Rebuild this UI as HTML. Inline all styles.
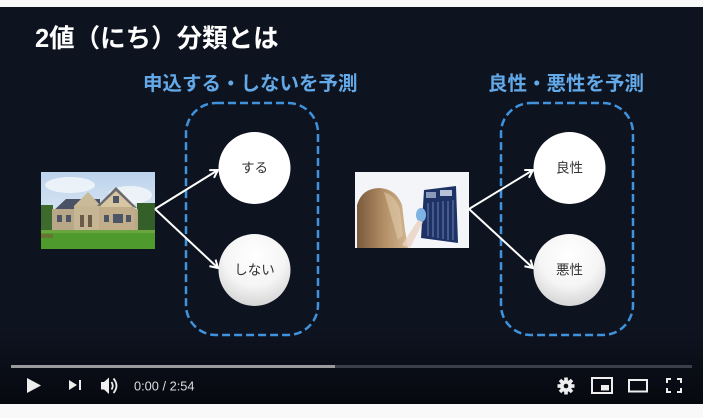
<!DOCTYPE html>
<html><head><meta charset="utf-8"><style>
html,body{margin:0;padding:0;background:#f9f9f9;}
body{width:703px;height:418px;overflow:hidden;}
svg{display:block;}
text{font-family:"Liberation Sans","Noto Sans CJK JP",sans-serif;}
</style></head><body>
<svg width="703" height="418" viewBox="0 0 703 418" xmlns="http://www.w3.org/2000/svg">
<defs>
<marker id="ah" markerWidth="12" markerHeight="12" refX="9" refY="6" orient="auto" markerUnits="userSpaceOnUse">
<path d="M1.5,1.5 L9,6 L1.5,10.5" fill="none" stroke="#fff" stroke-width="2" stroke-linejoin="miter"/>
</marker>
<radialGradient id="cg" cx="50%" cy="30%" r="70%">
<stop offset="0" stop-color="#ffffff"/><stop offset="0.6" stop-color="#f5f5f5"/><stop offset="1" stop-color="#d6d6d6"/>
</radialGradient>
<linearGradient id="bot" x1="0" y1="0" x2="0" y2="1">
<stop offset="0" stop-color="#000" stop-opacity="0"/><stop offset="1" stop-color="#000" stop-opacity="0.55"/>
</linearGradient>
<linearGradient id="sky" x1="0" y1="0" x2="0" y2="1">
<stop offset="0" stop-color="#bcd3ec"/><stop offset="1" stop-color="#eef2f6"/>
</linearGradient>
<linearGradient id="hair" x1="0" y1="0" x2="1" y2="0">
<stop offset="0" stop-color="#7a5a3c"/><stop offset="0.5" stop-color="#b08c64"/><stop offset="1" stop-color="#d2b690"/>
</linearGradient>
</defs>
<rect x="0" y="0" width="703" height="418" fill="#f9f9f9"/>
<rect x="0" y="7" width="703" height="397" fill="#0e1320"/>
<rect x="0" y="330" width="703" height="74" fill="url(#bot)"/>

<!-- title -->
<text x="35" y="47" font-size="25.5" font-weight="bold" fill="#ffffff">2値（にち）分類とは</text>
<text x="143" y="90" font-size="19.5" font-weight="bold" fill="#63a9e8">申込する・しないを予測</text>
<text x="488" y="90" font-size="19.5" font-weight="bold" fill="#63a9e8">良性・悪性を予測</text>

<!-- dashed boxes -->
<rect x="186" y="103" width="132" height="232" rx="30" ry="30" fill="none" stroke="#3f93dc" stroke-width="2.5" stroke-dasharray="8 4"/>
<rect x="501" y="103" width="132" height="232" rx="30" ry="30" fill="none" stroke="#3f93dc" stroke-width="2.5" stroke-dasharray="8 4"/>

<!-- house image -->
<g>
<rect x="41" y="172" width="114" height="77" fill="url(#sky)"/>
<ellipse cx="70" cy="185" rx="25" ry="8" fill="#f4f7fa" opacity="0.8"/>
<ellipse cx="130" cy="195" rx="22" ry="9" fill="#f4f7fa" opacity="0.8"/>
<rect x="41" y="205" width="12" height="26" fill="#3f6a2e"/>
<rect x="137" y="203" width="18" height="28" fill="#355f28"/>
<polygon points="52,212 66,199 100,199 100,212" fill="#4a5266"/>
<polygon points="74,206 88,192 101,206" fill="#c9bb99"/>
<polygon points="98,207 116,190 134,207" fill="#d6c6a2"/>
<polygon points="95,208 116,187 137,208 134,208 116,191 98,208" fill="#6b6a6e"/>
<rect x="52" y="209" width="86" height="21" fill="#b9a888"/>
<rect x="74" y="206" width="27" height="24" fill="#c6b694"/>
<rect x="99" y="207" width="36" height="23" fill="#c2ad8a"/>
<rect x="80" y="215" width="4" height="12" fill="#6a5a48"/>
<rect x="88" y="215" width="4" height="12" fill="#6a5a48"/>
<rect x="104" y="215" width="5" height="7" fill="#4c5566"/>
<rect x="113" y="214" width="10" height="9" fill="#4c5566"/>
<rect x="126" y="215" width="5" height="7" fill="#4c5566"/>
<rect x="57" y="215" width="5" height="7" fill="#4c5566"/>
<rect x="66" y="215" width="5" height="7" fill="#4c5566"/>
<rect x="113" y="196" width="6" height="7" fill="#4c5566"/>
<rect x="41" y="230" width="114" height="19" fill="#4f9a2c"/>
<rect x="41" y="230" width="114" height="3" fill="#6aa53f"/>
<rect x="41" y="234" width="12" height="4" fill="#7a5a3a" opacity="0.6"/>
</g>

<!-- xray image -->
<g>
<rect x="355" y="172" width="114" height="76" fill="#f3f5f8"/>
<path d="M357,248 L357,205 Q362,188 380,188 Q396,189 402,205 L405,230 L408,248 Z" fill="url(#hair)"/>
<path d="M384,192 Q396,196 400,210 L403,235 L398,240 Z" fill="#e0c9a8" opacity="0.6"/>
<polygon points="424,190 456,186 458,243 421,238" fill="#1f3266"/>
<g stroke="#8aa3d2" stroke-width="1" opacity="0.7">
<line x1="428" y1="203" x2="428" y2="236"/><line x1="433" y1="202" x2="433" y2="237"/>
<line x1="438" y1="202" x2="438" y2="238"/><line x1="443" y1="201" x2="443" y2="239"/>
<line x1="448" y1="201" x2="448" y2="240"/><line x1="453" y1="200" x2="453" y2="240"/>
</g>
<rect x="426" y="192" width="10" height="6" fill="#b9c6e0" opacity="0.7"/>
<rect x="440" y="190" width="12" height="6" fill="#dfe6f3" opacity="0.8"/>
<ellipse cx="421" cy="215" rx="5" ry="7" fill="#7fb3e4"/>
<path d="M402,245 L418,220 L423,222 L410,248 Z" fill="#e9d2c2" opacity="0.8"/>
</g>

<!-- arrows -->
<g stroke="#ffffff" stroke-width="2" fill="none">
<line x1="155" y1="209" x2="218" y2="170" marker-end="url(#ah)"/>
<line x1="155" y1="209" x2="218" y2="268" marker-end="url(#ah)"/>
<line x1="469" y1="209" x2="533" y2="170" marker-end="url(#ah)"/>
<line x1="469" y1="209" x2="533" y2="268" marker-end="url(#ah)"/>
</g>

<!-- circles -->
<circle cx="254.5" cy="168" r="36" fill="#ffffff"/>
<circle cx="254.5" cy="270" r="36" fill="url(#cg)"/>
<circle cx="569.5" cy="168" r="36" fill="#ffffff"/>
<circle cx="569.5" cy="270" r="36" fill="url(#cg)"/>
<g font-size="13.5" fill="#333" text-anchor="middle">
<text x="254.5" y="172.5">する</text>
<text x="254.5" y="274.5">しない</text>
<text x="569.5" y="172.5">良性</text>
<text x="569.5" y="274.5">悪性</text>
</g>

<!-- progress bar -->
<rect x="11" y="365" width="681" height="3" fill="#3b3e48"/>
<rect x="11" y="365" width="324" height="3" fill="#9a9a9c"/>

<!-- controls left -->
<g fill="#eeeeee">
<polygon points="27,378 41,385.5 27,393"/>
<polygon points="69,380 77,385 69,390"/>
<rect x="79" y="380" width="2" height="10"/>
<polygon points="101,382 104,382 109,377.5 109,394 104,389.5 101,389.5"/>
</g>
<g fill="none" stroke="#eeeeee" stroke-width="1.8">
<path d="M111.5,382 Q114,385.8 111.5,389.5"/>
<path d="M113.5,378.5 Q119.5,385.8 113.5,393"/>
</g>
<text x="134" y="390.5" font-size="12.8" fill="#dddddd">0:00 / 2:54</text>

<!-- controls right -->
<g fill="#eeeeee">
<circle cx="566" cy="386" r="6"/>
<g transform="translate(566 386)">
<rect x="-1.8" y="-8.5" width="3.6" height="17"/>
<rect x="-1.8" y="-8.5" width="3.6" height="17" transform="rotate(45)"/>
<rect x="-1.8" y="-8.5" width="3.6" height="17" transform="rotate(90)"/>
<rect x="-1.8" y="-8.5" width="3.6" height="17" transform="rotate(135)"/>
</g>
</g>
<circle cx="566" cy="386" r="2.3" fill="#0a0d15"/>
<rect x="592" y="378" width="20" height="15" fill="none" stroke="#eeeeee" stroke-width="2"/>
<rect x="601" y="385" width="8" height="5.5" fill="#eeeeee"/>
<rect x="629" y="380" width="18" height="11.5" fill="none" stroke="#eeeeee" stroke-width="2"/>
<g fill="none" stroke="#eeeeee" stroke-width="2">
<path d="M667,383 L667,379 L671,379"/>
<path d="M677,379 L681,379 L681,383"/>
<path d="M667,388 L667,392 L671,392"/>
<path d="M677,392 L681,392 L681,388"/>
</g>
</svg>
</body></html>
